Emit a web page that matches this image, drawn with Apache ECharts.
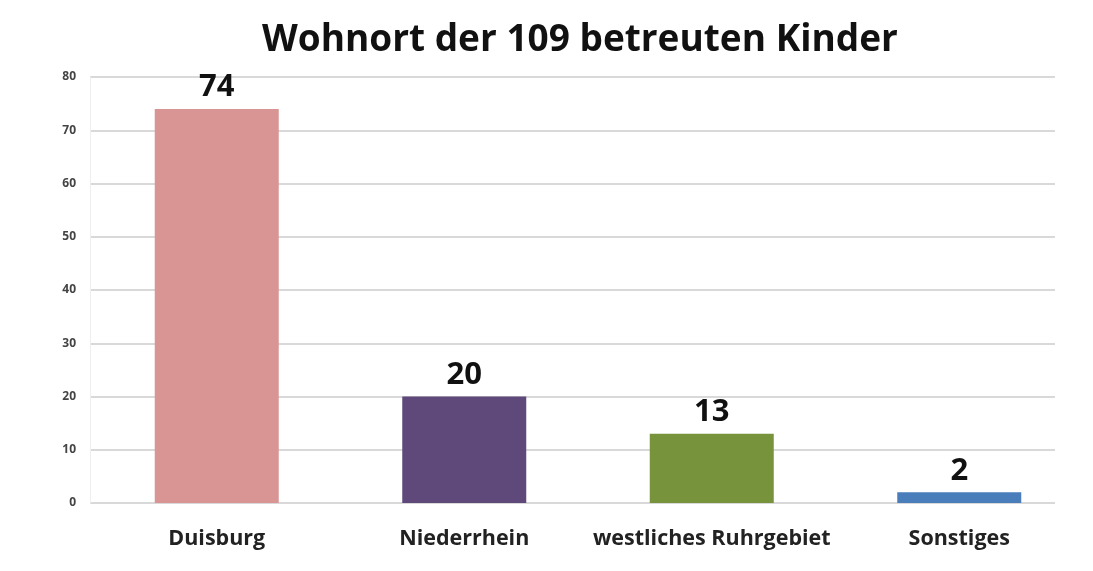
<!DOCTYPE html>
<html>
<head>
<meta charset="utf-8">
<script src="https://cdn.jsdelivr.net/npm/echarts@6/dist/echarts.min.js"></script>
<style>html,body{margin:0;padding:0;background:#fff}#c{width:1093px;height:571px}</style>
</head>
<body>
<div id="c"></div>
<script>
const titleText = 'Wohnort der 109 betreuten Kinder';
const categories = ['Duisburg', 'Niederrhein', 'westliches Ruhrgebiet', 'Sonstiges'];
const values = [74, 20, 13, 2];
const barColors = ['#d99594', '#5f497a', '#77933c', '#4a7ebb'];
const yTicks = [0, 10, 20, 30, 40, 50, 60, 70, 80];

const chart = echarts.init(document.getElementById('c'));
const FONT = '"Open Sans", sans-serif';
chart.setOption({
  animation: false,
  backgroundColor: '#fff',
  title: {
    text: titleText, left: 257, top: 17,
    textStyle: { fontFamily: FONT, fontWeight: 700, fontSize: 37, color: '#111' }
  },
  grid: [
    { left: 93, right: 10, top: 77, bottom: 68 },
    { left: 90, right: 38, top: 77, bottom: 68 }
  ],
  xAxis: [
    {
      type: 'category', data: categories, gridIndex: 0,
      axisLine: { show: false }, axisTick: { show: false },
      axisLabel: { interval: 0, fontFamily: FONT, fontWeight: 700, fontSize: 21.5, color: '#222', margin: 25 }
    },
    { type: 'category', gridIndex: 1, data: categories, show: false }
  ],
  yAxis: [
    { type: 'value', gridIndex: 0, min: 0, max: 80, interval: 10, show: false },
    {
      type: 'value', gridIndex: 1, min: yTicks[0], max: yTicks[yTicks.length - 1], interval: 10,
      axisLine: { show: true, lineStyle: { color: '#eeeeee', width: 1 } },
      axisTick: { show: false },
      splitLine: { lineStyle: { color: '#d9d9d9', width: 2 } },
      axisLabel: { fontFamily: FONT, fontWeight: 700, fontSize: 12, color: '#444', margin: 14 }
    }
  ],
  series: [{
    type: 'bar', xAxisIndex: 0, yAxisIndex: 0, barWidth: 124, z: 3,
    data: values.map((v, i) => ({ value: v, itemStyle: { color: barColors[i] } })),
    label: { show: true, position: 'top', distance: 6, fontFamily: FONT, fontWeight: 700, fontSize: 31, color: '#111' }
  }]
});
</script>
</body>
</html>
